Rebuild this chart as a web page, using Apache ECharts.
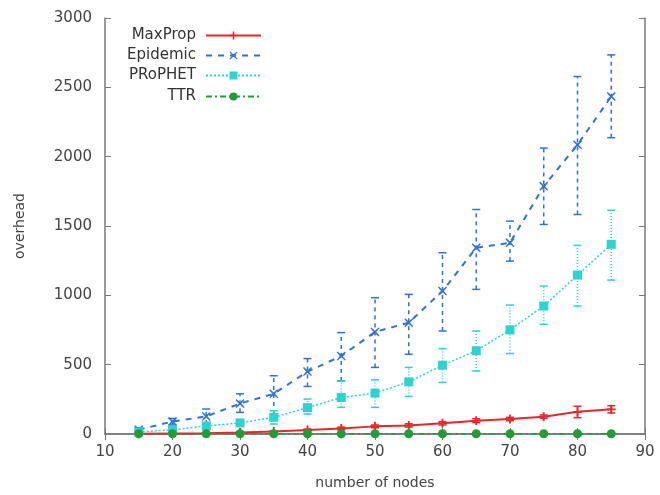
<!DOCTYPE html>
<html>
<head>
<meta charset="utf-8">
<script src="https://cdn.jsdelivr.net/npm/echarts@6/dist/echarts.min.js"></script>
<style>
  html, body { margin: 0; padding: 0; background: #fff; }
  #chart { width: 660px; height: 495px; }
</style>
</head>
<body>
<div id="chart"></div>
<script>
// Number of nodes in the network
const nodes = [15, 20, 25, 30, 35, 40, 45, 50, 55, 60, 65, 70, 75, 80, 85];

// MaxProp overhead: mean and error range
const maxprop     = [2, 4, 6, 10, 18, 28, 40, 55, 62, 77, 96, 108, 125, 160, 178];
const maxpropLow  = [0, 2, 3, 6, 12, 20, 30, 45, 50, 65, 82, 96, 113, 118, 152];
const maxpropHigh = [4, 6, 9, 14, 24, 36, 50, 65, 74, 89, 110, 120, 137, 200, 204];

// Epidemic overhead: mean and error range
const epidemic     = [31, 90, 127, 220, 290, 450, 562, 736, 803, 1031, 1343, 1379, 1786, 2086, 2434];
const epidemicLow  = [20, 65, 72, 156, 144, 343, 383, 480, 575, 743, 1043, 1247, 1511, 1583, 2137];
const epidemicHigh = [45, 112, 180, 290, 420, 544, 731, 983, 1007, 1307, 1619, 1535, 2062, 2578, 2734];

// PRoPHET overhead: mean and error range
const prophet     = [15, 30, 58, 80, 120, 190, 263, 295, 376, 496, 600, 751, 923, 1146, 1368];
const prophetLow  = [8, 20, 40, 60, 72, 144, 192, 192, 271, 372, 455, 580, 791, 923, 1110];
const prophetHigh = [22, 40, 75, 100, 168, 252, 383, 391, 480, 616, 743, 930, 1067, 1360, 1614];

// TTR overhead: mean and error range
const ttr     = [2, 2, 2, 2, 2, 2, 2, 2, 2, 2, 2, 2, 2, 2, 2];
const ttrLow  = [0, 0, 0, 0, 0, 0, 0, 0, 0, 0, 0, 0, 0, 0, 0];
const ttrHigh = [4, 4, 4, 4, 4, 4, 4, 4, 4, 4, 4, 4, 4, 4, 4];

// Axis ticks
const xTicks = { min: 10, max: 90, interval: 10 };
const yTicks = { min: 0, max: 3000, interval: 500 };

const FONT = 'DejaVu Sans';
const FRAME = '#7a7a7a';
const TEXT = '#444';

const SYM_PLUS = 'path://M4,0h2v4h4v2h-4v4h-2v-4h-4v-2h4z';
const SYM_STAR = 'path://M1,0L5,3.6L9,0L10,1L6.4,5L10,9L9,10L5,6.4L1,10L0,9L3.6,5L0,1Z';

function pairs(ys) { return nodes.map((x, i) => [x, ys[i]]); }
function ranges(lo, hi) { return nodes.map((x, i) => [x, lo[i], hi[i]]); }

function errorBars(lo, hi, color, dash, width) {
  return {
    type: 'custom',
    silent: true,
    data: ranges(lo, hi),
    encode: { x: 0, y: [1, 2] },
    renderItem: function (params, api) {
      const x = api.value(0);
      const a = api.coord([x, api.value(1)]);
      const b = api.coord([x, api.value(2)]);
      const cap = 4;
      const style = { stroke: color, lineWidth: width, lineDash: dash, fill: null };
      return {
        type: 'group',
        children: [
          { type: 'line', shape: { x1: a[0], y1: a[1], x2: b[0], y2: b[1] }, style: style },
          { type: 'line', shape: { x1: a[0] - cap, y1: a[1], x2: a[0] + cap, y2: a[1] }, style: { stroke: color, lineWidth: width } },
          { type: 'line', shape: { x1: b[0] - cap, y1: b[1], x2: b[0] + cap, y2: b[1] }, style: { stroke: color, lineWidth: width } }
        ]
      };
    },
    z: 2
  };
}

function lineSeries(name, ys, color, type, symbol, size, width) {
  return {
    name: name,
    type: 'line',
    data: pairs(ys),
    symbol: symbol,
    symbolSize: size,
    showAllSymbol: true,
    itemStyle: { color: color },
    lineStyle: { color: color, width: width, type: type },
    z: 3
  };
}

const RED = '#e8262b', BLUE = '#2e72dc', CYAN = '#2bd3d3', GREEN = '#1f9e36';

function legendEntry(name, top) {
  return {
    data: [name],
    right: 398,
    top: top,
    align: 'right',
    orient: 'vertical',
    padding: 0,
    itemWidth: 55,
    itemHeight: 10,
    selectedMode: false,
    textStyle: { fontFamily: FONT, fontSize: 15, color: '#333', padding: [0, 5, 0, 0] }
  };
}

const chart = echarts.init(document.getElementById('chart'), null, { renderer: 'canvas' });

chart.setOption({
  backgroundColor: '#fff',
  animation: false,
  grid: { left: 105, right: 15, top: 18, bottom: 60, containLabel: false },
  legend: [
    legendEntry('MaxProp', 28),
    legendEntry('Epidemic', 48),
    legendEntry('PRoPHET', 68),
    legendEntry('TTR', 89)
  ],
  xAxis: [
    {
      type: 'value',
      min: xTicks.min, max: xTicks.max, interval: xTicks.interval,
      name: 'number of nodes',
      nameLocation: 'middle',
      nameGap: 42,
      nameTextStyle: { fontFamily: FONT, fontSize: 14, color: TEXT },
      axisLine: { show: true, lineStyle: { color: FRAME, width: 1.5 } },
      axisTick: { show: true, inside: true, length: 6, lineStyle: { color: FRAME } },
      axisLabel: { fontFamily: FONT, fontSize: 15, color: TEXT, margin: 11 },
      splitLine: { show: false }
    },
    {
      type: 'value', position: 'top',
      min: xTicks.min, max: xTicks.max, interval: xTicks.interval,
      axisLine: { show: true, lineStyle: { color: FRAME, width: 1.5 } },
      axisTick: { show: true, inside: true, length: 6, lineStyle: { color: FRAME } },
      axisLabel: { show: false },
      splitLine: { show: false }
    }
  ],
  yAxis: [
    {
      type: 'value',
      min: yTicks.min, max: yTicks.max, interval: yTicks.interval,
      name: 'overhead',
      nameLocation: 'middle',
      nameGap: 78,
      nameRotate: 90,
      nameTextStyle: { fontFamily: FONT, fontSize: 14, color: TEXT },
      axisLine: { show: true, lineStyle: { color: FRAME, width: 1.5 } },
      axisTick: { show: true, inside: true, length: 6, lineStyle: { color: FRAME } },
      axisLabel: { fontFamily: FONT, fontSize: 15, color: TEXT, margin: 13, formatter: v => String(v) },
      splitLine: { show: false }
    },
    {
      type: 'value', position: 'right',
      min: yTicks.min, max: yTicks.max, interval: yTicks.interval,
      axisLine: { show: true, lineStyle: { color: FRAME, width: 1.5 } },
      axisTick: { show: true, inside: true, length: 6, lineStyle: { color: FRAME } },
      axisLabel: { show: false },
      splitLine: { show: false }
    }
  ],
  series: [
    errorBars(maxpropLow, maxpropHigh, RED, null, 1.5),
    lineSeries('MaxProp', maxprop, RED, 'solid', SYM_PLUS, 9, 2),
    errorBars(epidemicLow, epidemicHigh, BLUE, [4, 4], 1.5),
    lineSeries('Epidemic', epidemic, BLUE, [6, 6], SYM_STAR, 9, 2),
    errorBars(prophetLow, prophetHigh, CYAN, [1, 2], 1.5),
    lineSeries('PRoPHET', prophet, CYAN, [2, 2], 'rect', 9, 1.5),
    errorBars(ttrLow, ttrHigh, GREEN, null, 1.5),
    lineSeries('TTR', ttr, GREEN, [6, 3, 2, 3], 'circle', 9, 1.5)
  ]
});
</script>
</body>
</html>
